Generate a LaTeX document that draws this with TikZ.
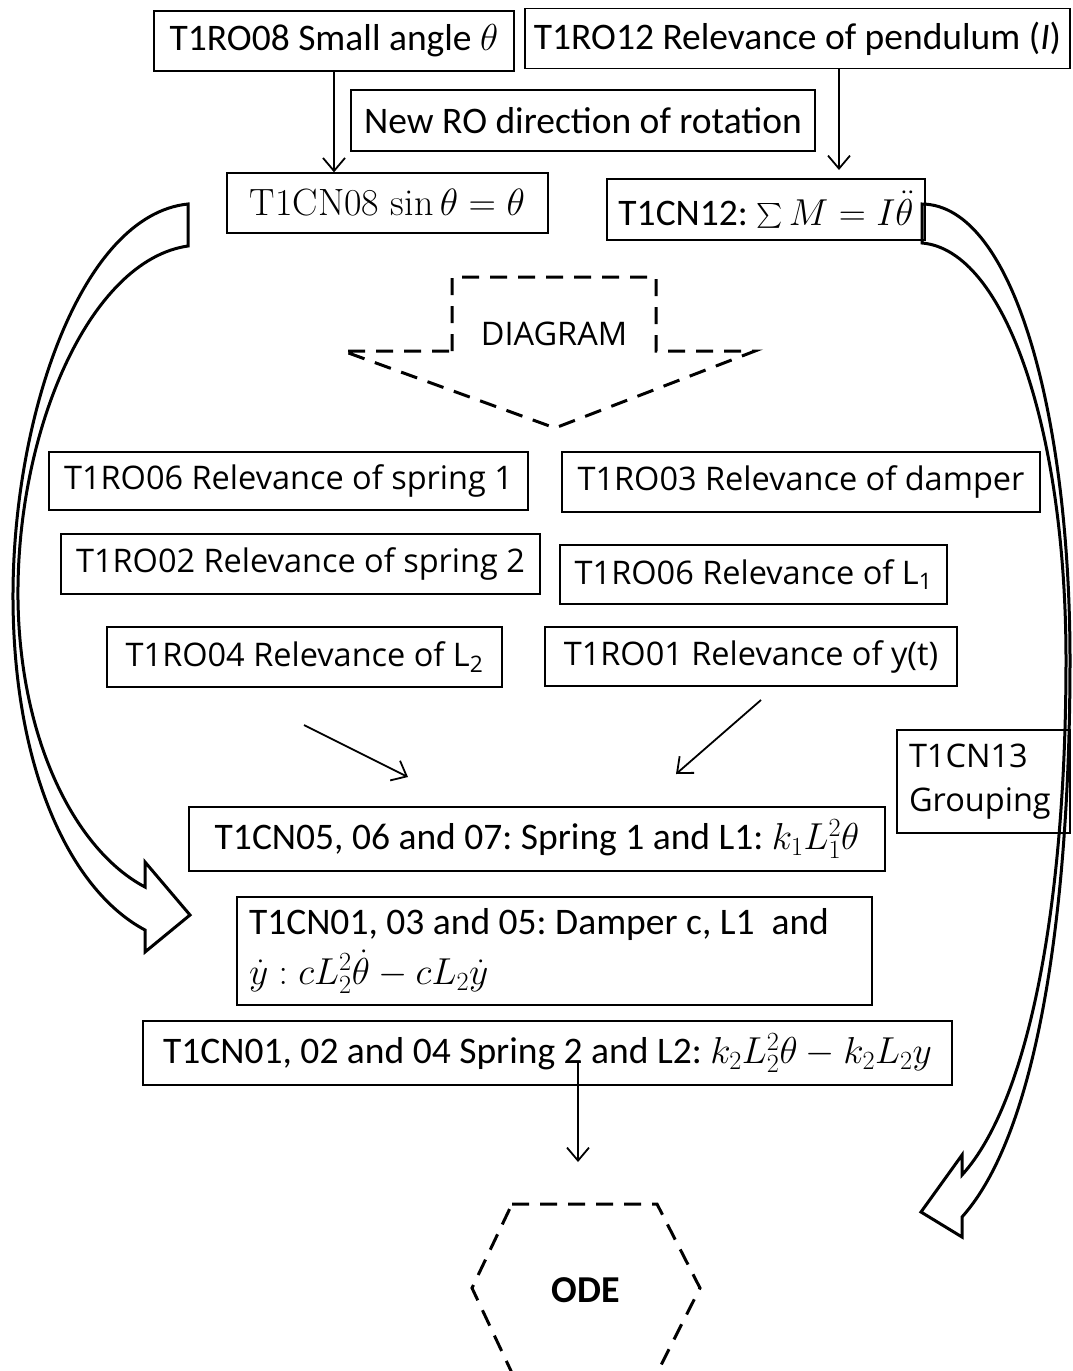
\RequirePackage{fix-cm}
\documentclass[tikz,border=0pt]{standalone}
\usepackage{amsmath}
\usepackage{fontspec}
\newfontfamily\calibri{Carlito}
\newfontfamily\opensans{Open Sans}
\usetikzlibrary{arrows.meta}
\frenchspacing
\tikzset{
BOX/.style={draw=black, line width=1.3pt, inner sep=0pt, minimum height=60},
CAL/.style={font=\calibri\fontsize{37.5}{50}\selectfont},
OPEN/.style={font=\opensans\fontsize{32.5}{44}\selectfont},
LINK/.style={draw=black, line width=1.8pt, -{Straight Barb[length=13pt,width=22pt,line width=1.8pt]}},
BLOCK/.style={draw=black, line width=3pt, line join=miter, fill=none},
DASHED/.style={draw=black, line width=3pt, dash pattern=on 17pt off 11pt},
}
\begin{document}
\begin{tikzpicture}
[x=1pt, y=-1pt]
	\useasboundingbox (0,0) rectangle (1072,1371);
	\node[BOX, CAL, minimum width=360] (ro08) at (334,41) {T1RO08 Small angle $\theta$};
	\node[BOX, CAL, minimum width=545] (ro12) at (797.5,38.5) {T1RO12 Relevance of pendulum (\textit{I})};
	\node[BOX, CAL, minimum width=464, minimum height=61] (newro) at (583,120.5) {New RO direction of rotation};
	\node[BOX, font=\fontsize{38}{44}\selectfont, minimum width=321] (cn08) at (387.5,203) {T1CN08 $\sin\theta = \theta$};
	\node[BOX, CAL, minimum width=318, minimum height=61] (cn12) at (766,209.5) {T1CN12: $\sum M = I\ddot{\theta}$};
	\coordinate (cn12in) at (839,170);
	\path[LINK] (ro08.south) -- (ro08.south |- cn08.north);
	\path[LINK] (ro12.south -| cn12in) -- (cn12in);
	\path[DASHED] (452,351) -- (452,277) -- (656,277) -- (656,351) -- (755,351) -- (555,428) -- (343,351) -- cycle;
	\node[OPEN] (diag) at (554,334) {DIAGRAM};
	\node[BOX, OPEN, minimum width=479, minimum height=58] (spr1) at (288.5,481) {T1RO06 Relevance of spring 1};
	\node[BOX, OPEN, minimum width=478] (damp) at (801,482) {T1RO03 Relevance of damper};
	\node[BOX, OPEN, minimum width=479] (spr2) at (300.5,564) {T1RO02 Relevance of spring 2};
	\node[BOX, OPEN, minimum width=387, minimum height=59] (lone) at (753.5,574.5) {T1RO06 Relevance of L\textsubscript{1}};
	\node[BOX, OPEN, minimum width=395] (ltwo) at (304.5,657) {T1RO04 Relevance of L\textsubscript{2}};
	\node[BOX, OPEN, minimum width=412, minimum height=59] (yt) at (751,656.5) {T1RO01 Relevance of y(t)};
	\node[BOX, OPEN, minimum width=173, minimum height=103, text width=149, align=left] (cn13) at (983.5,781.5) {T1CN13\\Grouping};
	\coordinate (ltwoout) at (304,725);
	\coordinate (cn05inl) at (408,777);
	\coordinate (ytout) at (761,700);
	\coordinate (cn05inr) at (676,774);
	\path[LINK] (ltwoout) -- (cn05inl);
	\path[LINK] (ytout) -- (cn05inr);
	\node[BOX, CAL, minimum width=696, minimum height=64] (cn05) at (537,839) {T1CN05, 06 and 07: Spring 1 and L1: $k_1L_1^2\theta$};
	\node[BOX, CAL, minimum width=635, minimum height=108, text width=611, align=left] (cn01) at (554.5,951) {\spaceskip=0pt\xspaceskip=0pt T1CN01, 03 and 05: Damper c, L1\ \ and\\$\dot{y}:cL_2^2\dot{\theta}-cL_2\dot{y}$};
	\node[BOX, CAL, minimum width=809, minimum height=64] (cn02) at (547.5,1053) {T1CN01, 02 and 04 Spring 2 and L2: $k_2L_2^2\theta-k_2L_2y$};
	\coordinate (odein) at (578,1162);
	\path[LINK] ([yshift=23pt]cn02.south -| odein) -- (odein);
	\path[DASHED] (512,1204) -- (657,1204) -- (700,1288) -- (657,1373) -- (512,1373) -- (472,1288) -- cycle;
	\node[font=\calibri\bfseries\fontsize{38}{44}\selectfont] (ode) at (586,1290) {ODE};
	\path[BLOCK] (188,246) -- (188,204) .. controls (80,215) and (12,420) .. (13,600)
	.. controls (14,770) and (70,890) .. (145,930) -- (145,952) -- (190,915) -- (145,862) -- (145,887)
	.. controls (75,850) and (20,740) .. (18,600) .. controls (16,430) and (90,260) .. (188,246) -- cycle;
	\path[BLOCK] (922,243) -- (922,204) .. controls (1015,205) and (1070,420) .. (1070,660)
	.. controls (1070,900) and (1040,1130) .. (962,1217) -- (962,1237) -- (921,1212) -- (962,1155) -- (962,1175)
	.. controls (1030,1100) and (1066,900) .. (1066,660) .. controls (1066,430) and (1005,250) .. (922,243) -- cycle;
\end{tikzpicture}
\end{document}
